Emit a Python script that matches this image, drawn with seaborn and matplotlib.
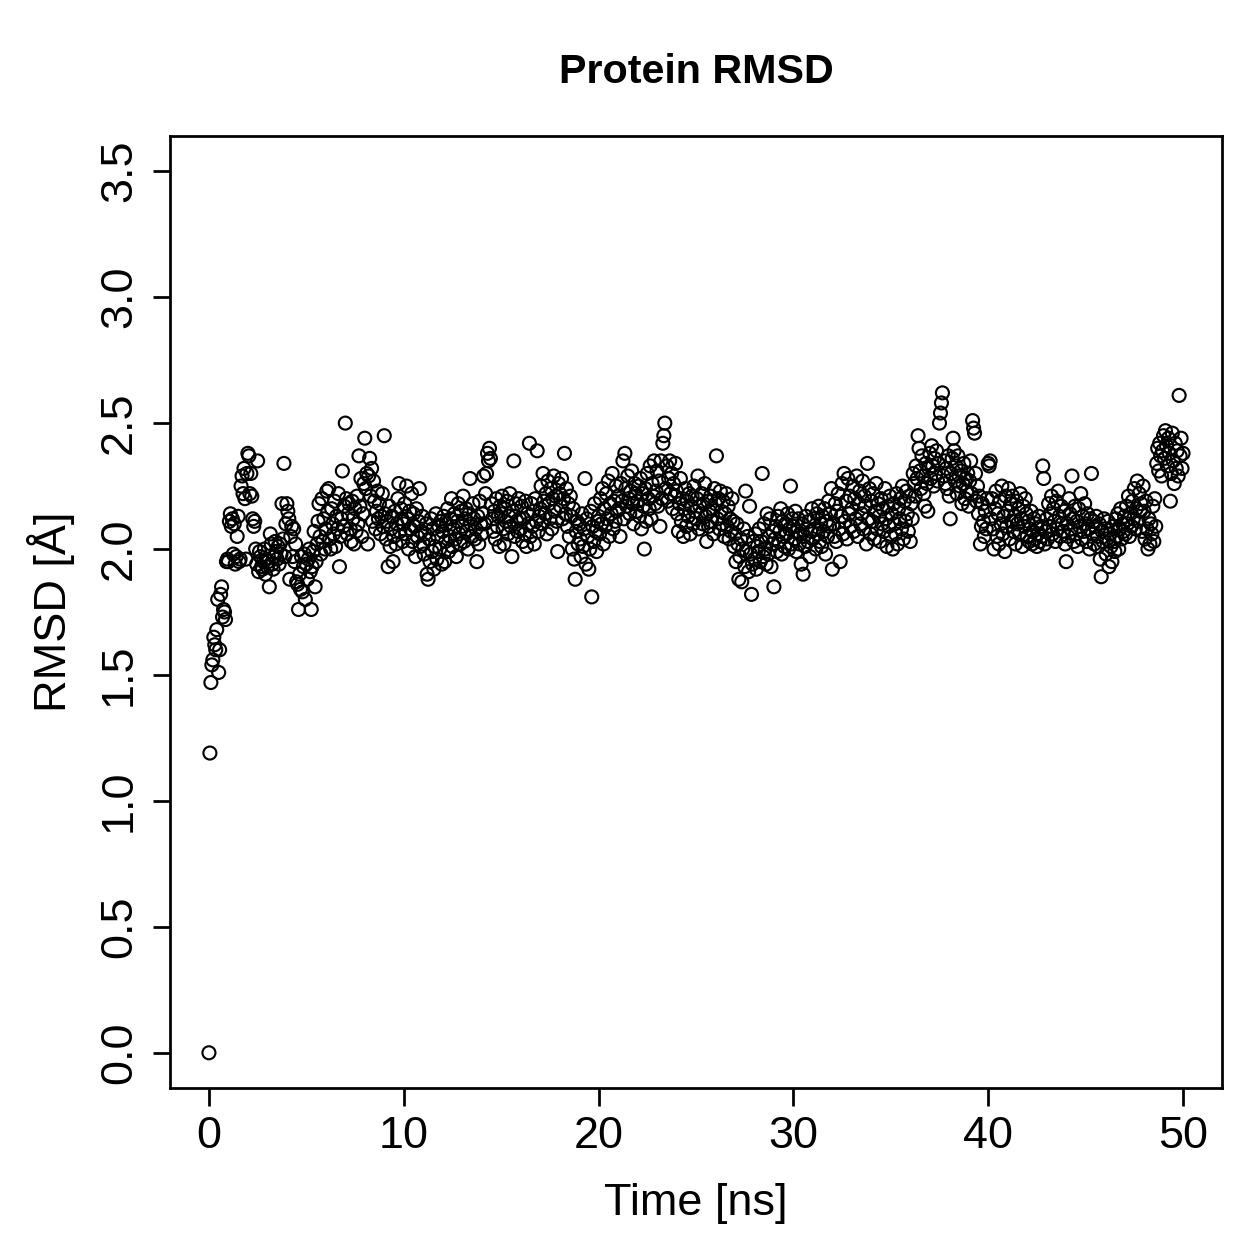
import numpy as np
import matplotlib
matplotlib.use("Agg")
import matplotlib.pyplot as plt
import seaborn as sns

# RMSD per frame, one frame every 0.05 ns (20 frames per ns per line)
frame_ns = 0.05
rmsd = [
    0.00, 1.19, 1.47, 1.54, 1.56, 1.65, 1.62, 1.60, 1.68, 1.80, 1.51, 1.60, 1.82, 1.85, 1.73, 1.76, 1.75, 1.72, 1.95, 1.96,  # 0
    1.95, 2.11, 2.14, 2.09, 2.12, 1.98, 2.10, 1.94, 1.97, 2.05, 2.13, 1.95, 1.96, 2.25, 2.29, 2.22, 2.32, 2.20, 1.96, 2.30,  # 1
    2.38, 2.37, 2.22, 2.30, 2.21, 2.12, 2.09, 2.11, 2.00, 1.94, 2.35, 1.91, 1.99, 1.97, 1.93, 1.92, 1.95, 2.00, 1.90, 1.96,  # 2
    1.93, 1.95, 1.85, 2.06, 2.02, 1.94, 1.92, 1.97, 2.03, 1.99, 1.96, 2.01, 1.94, 2.02, 1.98, 2.18, 2.04, 2.34, 1.97, 2.10,  # 3
    2.18, 2.15, 2.12, 1.88, 2.05, 2.09, 1.97, 2.08, 1.95, 2.02, 1.87, 1.86, 1.76, 1.90, 1.84, 1.97, 1.83, 1.93, 1.98, 1.80,  # 4
    1.94, 1.88, 1.96, 2.00, 1.91, 1.76, 1.93, 1.99, 2.07, 1.85, 1.95, 2.02, 2.11, 2.18, 2.05, 1.98, 2.20, 2.03, 2.12, 2.00,  # 5
    2.08, 2.23, 2.15, 2.24, 2.04, 2.00, 2.16, 2.10, 2.06, 2.19, 2.01, 2.13, 2.08, 2.22, 1.93, 2.05, 2.12, 2.31, 2.09, 2.17,  # 6
    2.50, 2.20, 2.06, 2.14, 2.18, 2.08, 2.03, 2.19, 2.12, 2.02, 2.16, 2.07, 2.21, 2.10, 2.37, 2.17, 2.28, 2.05, 2.14, 2.26,  # 7
    2.44, 2.24, 2.30, 2.02, 2.29, 2.36, 2.21, 2.32, 2.11, 2.27, 2.19, 2.08, 2.15, 2.23, 2.12, 2.18, 2.06, 2.13, 2.22, 2.09,  # 8
    2.45, 2.14, 2.04, 2.11, 1.93, 2.17, 2.01, 2.08, 2.13, 1.95, 2.05, 2.15, 2.02, 2.10, 2.20, 2.26, 2.07, 2.16, 2.12, 2.03,  # 9
    2.10, 2.18, 2.06, 2.25, 2.12, 2.00, 2.15, 2.08, 2.22, 2.03, 2.14, 2.09, 1.97, 2.16, 2.05, 2.11, 2.24, 2.01, 2.07, 2.13,  # 10
    2.02, 1.98, 2.06, 2.10, 1.90, 1.88, 2.04, 1.95, 2.12, 1.99, 2.08, 1.92, 2.01, 2.14, 1.96, 2.05, 2.09, 2.00, 2.11, 1.94,  # 11
    2.07, 2.13, 1.95, 2.03, 2.10, 2.16, 1.99, 2.05, 2.12, 2.20, 2.01, 2.08, 2.14, 2.04, 1.97, 2.11, 2.18, 2.06, 2.02, 2.15,  # 12
    2.09, 2.21, 2.03, 2.12, 2.16, 2.07, 2.00, 2.14, 2.28, 2.10, 2.05, 2.18, 2.12, 2.04, 2.08, 1.95, 2.13, 2.02, 2.19, 2.10,  # 13
    2.06, 2.14, 2.29, 2.10, 2.22, 2.30, 2.38, 2.35, 2.40, 2.36, 2.18, 2.12, 2.07, 2.15, 2.04, 2.20, 2.09, 2.13, 2.01, 2.17,  # 14
    2.14, 2.21, 2.08, 2.02, 2.16, 2.11, 2.19, 2.06, 2.13, 2.22, 2.09, 1.97, 2.15, 2.35, 2.05, 2.18, 2.11, 2.07, 2.20, 2.12,  # 15
    2.08, 2.17, 2.03, 2.12, 2.06, 2.19, 2.01, 2.14, 2.10, 2.42, 2.05, 2.18, 2.09, 2.15, 2.02, 2.20, 2.11, 2.39, 2.07, 2.13,  # 16
    2.16, 2.25, 2.10, 2.30, 2.19, 2.14, 2.22, 2.06, 2.27, 2.18, 2.12, 2.24, 2.08, 2.20, 2.29, 2.15, 2.21, 2.11, 1.99, 2.26,  # 17
    2.22, 2.17, 2.28, 2.12, 2.20, 2.38, 2.14, 2.24, 2.09, 2.18, 2.05, 2.21, 2.13, 2.00, 2.16, 1.96, 1.88, 2.07, 2.11, 2.02,  # 18
    2.10, 2.04, 1.97, 2.14, 2.01, 2.08, 2.28, 1.94, 2.12, 2.05, 1.92, 2.00, 2.15, 1.81, 2.09, 2.03, 2.18, 2.07, 1.99, 2.11,  # 19
    2.13, 2.06, 2.20, 2.10, 2.24, 2.02, 2.16, 2.09, 2.22, 2.12, 2.27, 2.05, 2.18, 2.14, 2.30, 2.08, 2.19, 2.11, 2.25, 2.15,  # 20
    2.21, 2.16, 2.05, 2.26, 2.19, 2.35, 2.12, 2.38, 2.24, 2.17, 2.29, 2.20, 2.14, 2.23, 2.31, 2.18, 2.10, 2.26, 2.22, 2.15,  # 21
    2.19, 2.25, 2.13, 2.28, 2.08, 2.22, 2.17, 2.00, 2.24, 2.11, 2.30, 2.20, 2.16, 2.33, 2.12, 2.26, 2.21, 2.35, 2.18, 2.23,  # 22
    2.31, 2.17, 2.27, 2.09, 2.35, 2.20, 2.42, 2.45, 2.50, 2.24, 2.33, 2.19, 2.28, 2.35, 2.22, 2.30, 2.16, 2.26, 2.21, 2.34,  # 23
    2.23, 2.14, 2.07, 2.18, 2.28, 2.11, 2.20, 2.05, 2.16, 2.24, 2.09, 2.19, 2.13, 2.22, 2.06, 2.17, 2.21, 2.10, 2.25, 2.15,  # 24
    2.12, 2.20, 2.29, 2.08, 2.17, 2.14, 2.22, 2.10, 2.18, 2.26, 2.13, 2.03, 2.19, 2.09, 2.15, 2.21, 2.11, 2.16, 2.06, 2.24,  # 25
    2.18, 2.37, 2.12, 2.20, 2.08, 2.23, 2.15, 2.10, 2.19, 2.05, 2.14, 2.22, 2.09, 2.17, 2.04, 2.12, 2.07, 2.20, 2.11, 2.01,  # 26
    2.06, 1.95, 2.10, 2.02, 1.88, 1.97, 2.04, 1.87, 2.00, 2.08, 1.93, 2.23, 1.99, 2.05, 1.91, 2.17, 1.98, 1.82, 1.94, 2.03,  # 27
    1.96, 2.06, 1.92, 2.01, 1.99, 2.08, 1.95, 2.03, 2.30, 1.97, 2.10, 2.00, 1.94, 2.14, 1.98, 2.05, 2.12, 1.93, 2.02, 2.07,  # 28
    1.85, 2.04, 2.09, 1.99, 2.13, 2.03, 2.07, 2.16, 1.98, 2.11, 2.05, 2.01, 2.10, 2.06, 2.14, 2.00, 2.08, 2.25, 2.02, 2.12,  # 29
    2.09, 2.04, 2.15, 1.99, 2.07, 2.12, 2.02, 2.06, 1.94, 2.10, 1.90, 2.05, 2.01, 2.13, 2.08, 2.03, 2.11, 1.97, 2.07, 2.16,  # 30
    2.04, 2.12, 2.08, 2.00, 2.14, 2.06, 2.17, 2.03, 2.10, 2.01, 2.13, 2.07, 2.16, 1.98, 2.11, 2.05, 2.19, 2.09, 2.14, 2.24,  # 31
    1.92, 2.10, 2.05, 2.18, 2.03, 2.15, 2.22, 2.08, 1.95, 2.13, 2.26, 2.06, 2.30, 2.11, 2.19, 2.04, 2.28, 2.14, 2.21, 2.09,  # 32
    2.16, 2.25, 2.07, 2.20, 2.12, 2.29, 2.05, 2.18, 2.23, 2.10, 2.14, 2.27, 2.08, 2.21, 2.17, 2.02, 2.34, 2.12, 2.24, 2.06,  # 33
    2.19, 2.11, 2.22, 2.04, 2.15, 2.26, 2.08, 2.18, 2.13, 2.03, 2.20, 2.10, 2.16, 2.07, 2.24, 2.12, 2.01, 2.17, 2.09, 2.21,  # 34
    2.05, 2.14, 2.00, 2.18, 2.10, 2.06, 2.22, 2.02, 2.16, 2.12, 2.20, 2.08, 2.25, 2.04, 2.19, 2.11, 2.23, 2.14, 2.07, 2.21,  # 35
    2.03, 2.18, 2.12, 2.30, 2.26, 2.21, 2.33, 2.28, 2.45, 2.40, 2.31, 2.24, 2.37, 2.29, 2.22, 2.17, 2.34, 2.26, 2.15, 2.32,  # 36
    2.38, 2.28, 2.41, 2.33, 2.25, 2.36, 2.30, 2.39, 2.27, 2.34, 2.50, 2.54, 2.58, 2.62, 2.29, 2.35, 2.26, 2.32, 2.24, 2.37,  # 37
    2.21, 2.12, 2.30, 2.36, 2.44, 2.39, 2.27, 2.33, 2.22, 2.37, 2.29, 2.25, 2.31, 2.18, 2.26, 2.34, 2.20, 2.28, 2.23, 2.30,  # 38
    2.17, 2.27, 2.35, 2.22, 2.51, 2.48, 2.46, 2.30, 2.19, 2.25, 2.14, 2.21, 2.02, 2.09, 2.18, 2.11, 2.05, 2.15, 2.08, 2.20,  # 39
    2.34, 2.33, 2.35, 2.12, 2.20, 2.08, 2.00, 2.16, 2.23, 2.05, 2.14, 2.02, 2.19, 2.10, 2.25, 2.06, 2.13, 1.99, 2.21, 2.09,  # 40
    2.15, 2.24, 2.04, 2.18, 2.11, 2.21, 2.07, 2.13, 2.02, 2.19, 2.10, 2.16, 2.06, 2.22, 2.12, 2.01, 2.17, 2.09, 2.20, 2.14,  # 41
    2.05, 2.11, 2.03, 2.08, 2.15, 2.02, 2.07, 2.12, 2.04, 2.10, 2.01, 2.06, 2.13, 2.03, 2.09, 2.05, 2.33, 2.28, 2.02, 2.07,  # 42
    2.12, 2.04, 2.18, 2.09, 2.14, 2.21, 2.06, 2.16, 2.11, 2.03, 2.19, 2.08, 2.23, 2.13, 2.05, 2.17, 2.10, 2.07, 2.15, 2.02,  # 43
    1.95, 2.10, 2.05, 2.20, 2.14, 2.08, 2.29, 2.12, 2.03, 2.17, 2.06, 2.11, 2.01, 2.16, 2.09, 2.22, 2.04, 2.13, 2.07, 2.18,  # 44
    2.10, 2.03, 2.14, 2.08, 2.00, 2.12, 2.30, 2.06, 2.11, 2.02, 2.09, 2.13, 2.05, 2.01, 2.10, 1.96, 1.89, 2.07, 2.03, 2.12,  # 45
    2.08, 1.98, 2.04, 2.11, 1.93, 2.06, 2.01, 1.95, 2.09, 2.03, 1.99, 2.12, 2.05, 2.14, 2.00, 2.08, 2.16, 2.04, 2.10, 2.07,  # 46
    2.13, 2.06, 2.17, 2.10, 2.21, 2.05, 2.14, 2.09, 2.19, 2.12, 2.24, 2.08, 2.16, 2.27, 2.11, 2.22, 2.15, 2.18, 2.07, 2.25,  # 47
    2.15, 2.04, 2.19, 2.08, 2.00, 2.12, 2.02, 2.10, 2.06, 2.17, 2.03, 2.20, 2.09, 2.34, 2.40, 2.31, 2.42, 2.37, 2.29, 2.39,  # 48
    2.45, 2.36, 2.47, 2.41, 2.33, 2.44, 2.38, 2.19, 2.30, 2.46, 2.35, 2.26, 2.42, 2.32, 2.39, 2.29, 2.61, 2.37, 2.44, 2.32,  # 49
    2.38,  # 50
]
time_ns = np.arange(len(rmsd)) * frame_ns

x_ticks = [0, 10, 20, 30, 40, 50]
y_ticks = [0.0, 0.5, 1.0, 1.5, 2.0, 2.5, 3.0, 3.5]

sns.set_theme(style="ticks")
plt.rcParams['font.family'] = ['Liberation Sans', 'DejaVu Sans']
plt.rcParams['text.color'] = 'black'
plt.rcParams['axes.labelcolor'] = 'black'
plt.rcParams['xtick.color'] = 'black'
plt.rcParams['ytick.color'] = 'black'

fig = plt.figure(figsize=(1259 / 180, 1259 / 180), dpi=180)
ax = fig.add_axes([0.135, 0.1358, 0.8356, 0.7562])

sns.scatterplot(x=time_ns, y=rmsd, ax=ax, marker='o', s=27,
                facecolors='none', edgecolor='black', linewidth=0.85)

ax.set_xlim(-2, 52)
ax.set_ylim(-0.14, 3.64)
ax.set_xticks(x_ticks)
ax.set_xticklabels([str(v) for v in x_ticks])
ax.set_yticks(y_ticks)
ax.set_yticklabels([f"{v:.1f}" for v in y_ticks], rotation=90, va='center')

for sp in ax.spines.values():
    sp.set_visible(True)
    sp.set_linewidth(1.1)
    sp.set_color('black')
ax.tick_params(axis='both', length=7, width=1.1, colors='black', labelsize=18, direction='out')
ax.tick_params(axis='x', pad=4)
ax.tick_params(axis='y', pad=5)

ax.set_title('Protein RMSD', fontsize=16.5, fontweight='bold', pad=21, color='black')
ax.set_xlabel('Time [ns]', fontsize=18)
ax.set_ylabel('RMSD [Å]', fontsize=18)
ax.xaxis.set_label_coords(0.5, -0.1)
ax.yaxis.set_label_coords(-0.09, 0.5)
ax.grid(False)

fig.savefig('out.png', dpi=180, facecolor='white')
